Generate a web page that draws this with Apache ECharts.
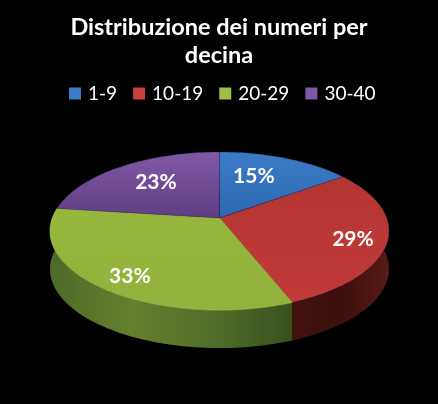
<!DOCTYPE html>
<html>
<head>
<meta charset="utf-8">
<style>html,body{margin:0;padding:0;background:#000}#c{width:438px;height:404px}</style>
<script src="https://cdn.jsdelivr.net/npm/echarts@6/dist/echarts.min.js"></script>
</head>
<body>
<div id="c"></div>
<script>
const categories = ['1-9', '10-19', '20-29', '30-40'];
const values = [15, 29, 33, 23];
const titleText = 'Distribuzione dei numeri per\ndecina';

const G = (x0, y0, x1, y1, stops) => ({
  type: 'linear', x: x0, y: y0, x2: x1, y2: y1,
  colorStops: stops.map((c, i) => ({ offset: i / (stops.length - 1), color: c }))
});
const legendColors = ['#3d7cc9', '#c9403c', '#a0bf45', '#7f5aa8'];
const topFill = [
  G(0, 0, 0, 1, ['#3b7bc6', '#2c68b0']),
  G(0, 0, 0, 1, ['#b53533', '#c03a37']),
  G(0, 0, 0, 1, ['#96b63e', '#92b23b']),
  G(0, 0, 0, 1, ['#8059a8', '#5f3e80'])
];
const sideFill = [
  '#1d4470',
  G(0, 0, 1, 0, ['#43120f', '#3b0f0d', '#571a17']),
  G(0, 0, 1, 0, ['#4f6a27', '#647f2d', '#536e28', '#39501e']),
  '#4a2e66'
];
// where each percentage sits inside its slice: [turn fraction, radius fraction]
const labelAnchor = [[0.056, 0.656], [0.30, 0.805], [0.5997, 0.815], [0.8936, 0.666]];

// Projected disc: the back of the pie is foreshortened
const apexX = 219.5, apexY = 218, rx = 167.2, ry = 76.9, persp = 0.1646, depth = 38;
const total = values.reduce((a, b) => a + b, 0);
const startFrac = i => values.slice(0, i).reduce((a, b) => a + b, 0) / total;
function project(theta, r) {
  const u = r * Math.sin(theta), v = r * Math.cos(theta), d = 1 + persp * v;
  return [apexX + rx * u / d, apexY - ry * v / d];
}
function rim(i) {
  const a0 = startFrac(i) * 2 * Math.PI, a1 = startFrac(i + 1) * 2 * Math.PI, pts = [];
  const n = Math.max(8, Math.round((a1 - a0) * 40));
  for (let k = 0; k <= n; k++) pts.push(project(a0 + (a1 - a0) * k / n, 1));
  return pts;
}
const renderSides = (params) => {
  const i = params.dataIndex, pts = rim(i);
  const lower = pts.map(p => [p[0], p[1] + depth]).reverse();
  return { type: 'polygon', silent: true, shape: { points: pts.concat(lower) }, style: { fill: sideFill[i] } };
};
const renderTop = i => () => {
  const pts = [[apexX, apexY]].concat(rim(i));
  const lp = project(labelAnchor[i][0] * 2 * Math.PI, labelAnchor[i][1]);
  return {
    type: 'group', silent: true,
    children: [
      { type: 'polygon', shape: { points: pts }, style: { fill: topFill[i], stroke: i === 2 ? '#a9c75a' : 'rgba(20,30,60,0.55)', lineWidth: 0.6 } },
      { type: 'text', x: lp[0], y: lp[1] + 1, style: {
          text: Math.round(values[i] / total * 100) + '%', fill: '#fff',
          font: 'bold 21px Lato', align: 'center', verticalAlign: 'middle' } }
    ]
  };
};
const series = [{
  type: 'custom', name: 'fianchi', coordinateSystem: 'none', z: 1, silent: true,
  data: values.map(v => [v]), renderItem: renderSides
}].concat(categories.map((c, i) => ({
  type: 'custom', name: c, coordinateSystem: 'none', z: 2 + i, silent: true,
  data: [[values[i]]], itemStyle: { color: legendColors[i] }, renderItem: renderTop(i)
})));

const chart = echarts.init(document.getElementById('c'), null, { renderer: 'canvas' });
chart.setOption({
  backgroundColor: '#000',
  animation: false,
  title: {
    text: titleText, left: 214, top: 8, textAlign: 'center',
    textStyle: { color: '#fff', fontFamily: 'Lato', fontWeight: 'bold', fontSize: 23.5, lineHeight: 28 }
  },
  legend: {
    data: categories, top: 79, left: 64, icon: 'rect', selectedMode: false,
    itemWidth: 12, itemHeight: 12, itemGap: 16,
    textStyle: { color: '#fff', fontFamily: 'Lato', fontSize: 19, padding: [0, 0, 0, 2] }
  },
  series
});
</script>
</body>
</html>
